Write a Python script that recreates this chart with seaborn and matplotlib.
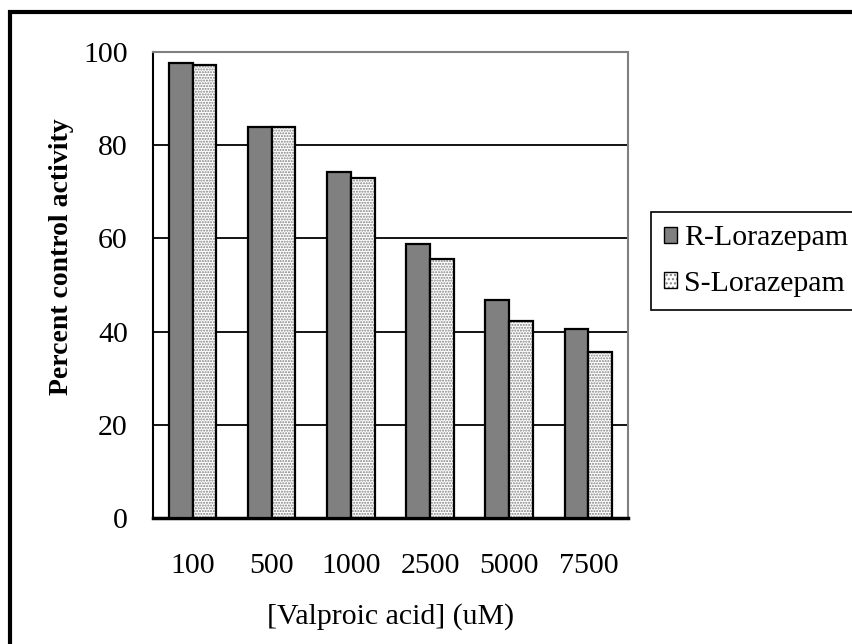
import matplotlib
matplotlib.use("Agg")
import matplotlib.pyplot as plt
from matplotlib.patches import Rectangle, Patch
import seaborn as sns
import pandas as pd
import numpy as np

# Valproic acid concentrations (uM) and percent of control activity
concentrations = ["100", "500", "1000", "2500", "5000", "7500"]
r_lorazepam = [97.7, 84.0, 74.2, 58.7, 46.7, 40.6]
s_lorazepam = [97.3, 84.0, 73.0, 55.6, 42.3, 35.6]
series_names = ["R-Lorazepam", "S-Lorazepam"]
y_ticks = [0, 20, 40, 60, 80, 100]

df = pd.DataFrame({
    "conc": concentrations * 2,
    "activity": r_lorazepam + s_lorazepam,
    "enantiomer": [series_names[0]] * len(concentrations) + [series_names[1]] * len(concentrations),
})

sns.set_theme(style="white")
plt.rcParams["font.family"] = ["Liberation Serif", "DejaVu Serif"]
plt.rcParams["axes.unicode_minus"] = False
plt.rcParams["text.color"] = "black"
plt.rcParams["axes.labelcolor"] = "black"
plt.rcParams["xtick.color"] = "black"
plt.rcParams["ytick.color"] = "black"
plt.rcParams["hatch.linewidth"] = 1.0

FS = 21.5

fig = plt.figure(figsize=(8.53, 6.44), dpi=100)
ax = fig.add_axes([153 / 853, 1 - 518 / 644, (628 - 153) / 853, (518 - 52) / 644])

sns.barplot(
    data=df, x="conc", y="activity", hue="enantiomer",
    order=concentrations, hue_order=series_names,
    palette=["#808080", "#ffffff"], width=0.6, dodge=True,
    edgecolor="black", linewidth=1.6, saturation=1, legend=False, ax=ax, zorder=3,
)

# Stippled fill for the S-enantiomer bars
n = len(concentrations)
for i, p in enumerate(ax.patches):
    if i >= n:
        p.set_hatch("......")
        p._hatch_color = (0.5, 0.5, 0.5, 1.0)

ax.set_ylim(0, 100)
ax.set_xlim(-0.5, n - 0.5)
ax.set_yticks(y_ticks)
ax.set_yticklabels([str(t) for t in y_ticks], fontsize=FS, color="black")
ax.tick_params(axis="y", direction="inout", length=12, width=1.5, color="black", pad=12)

# Category labels at group centres, tick marks at the group boundaries
ax.set_xticks(np.arange(-0.5, n, 1.0))
ax.set_xticklabels([])
ax.set_xticks(np.arange(n), minor=True)
ax.set_xticklabels(concentrations, minor=True, fontsize=FS, color="black")
ax.tick_params(axis="x", which="major", direction="out", length=8, width=1.5, color="black")
ax.tick_params(axis="x", which="minor", length=0, pad=25)

ax.yaxis.grid(True, color="black", linewidth=1.3, zorder=0)
ax.set_axisbelow(True)

for side in ["top", "right"]:
    ax.spines[side].set_color("#808080")
    ax.spines[side].set_linewidth(1.5)
ax.spines["left"].set_color("black")
ax.spines["left"].set_linewidth(1.5)
ax.spines["bottom"].set_color("black")
ax.spines["bottom"].set_linewidth(2.5)

ax.set_xlabel("[Valproic acid] (uM)", fontsize=FS, color="black")
ax.xaxis.set_label_coords(0.5, -(617 - 518) / 466, transform=ax.transAxes)
ax.xaxis.label.set_va("center")
ax.set_ylabel("Percent control activity", fontsize=20, fontweight="bold", color="black")
ax.yaxis.set_label_coords(-(153 - 62) / 475, (518 - 257) / 466)
ax.yaxis.label.set_va("center")

handles = [
    Patch(facecolor="#808080", edgecolor="black", linewidth=1.0),
    Patch(facecolor="#ffffff", edgecolor="black", linewidth=1.0),
]
leg = fig.legend(
    handles, series_names, loc="upper left",
    bbox_to_anchor=(651 / 853, 1 - 212 / 644), fontsize=FS,
    frameon=True, fancybox=False, framealpha=1, edgecolor="black",
    handlelength=0.42, handleheight=0.42, handletextpad=0.25,
    borderpad=0.45, labelspacing=0.65, borderaxespad=0,
)
leg.get_frame().set_linewidth(1.2)
for t in leg.get_texts():
    t.set_color("black")
hp = leg.legend_handles[1]
hp.set_hatch("....")
hp._hatch_color = (0.5, 0.5, 0.5, 1.0)

# Outer chart border
fig.patches.append(Rectangle(
    (10 / 853, -0.5), 2.0, (1 - 12 / 644) + 0.5,
    fill=False, edgecolor="black", linewidth=3,
    transform=fig.transFigure, figure=fig,
))

fig.savefig("out.png", dpi=100)
